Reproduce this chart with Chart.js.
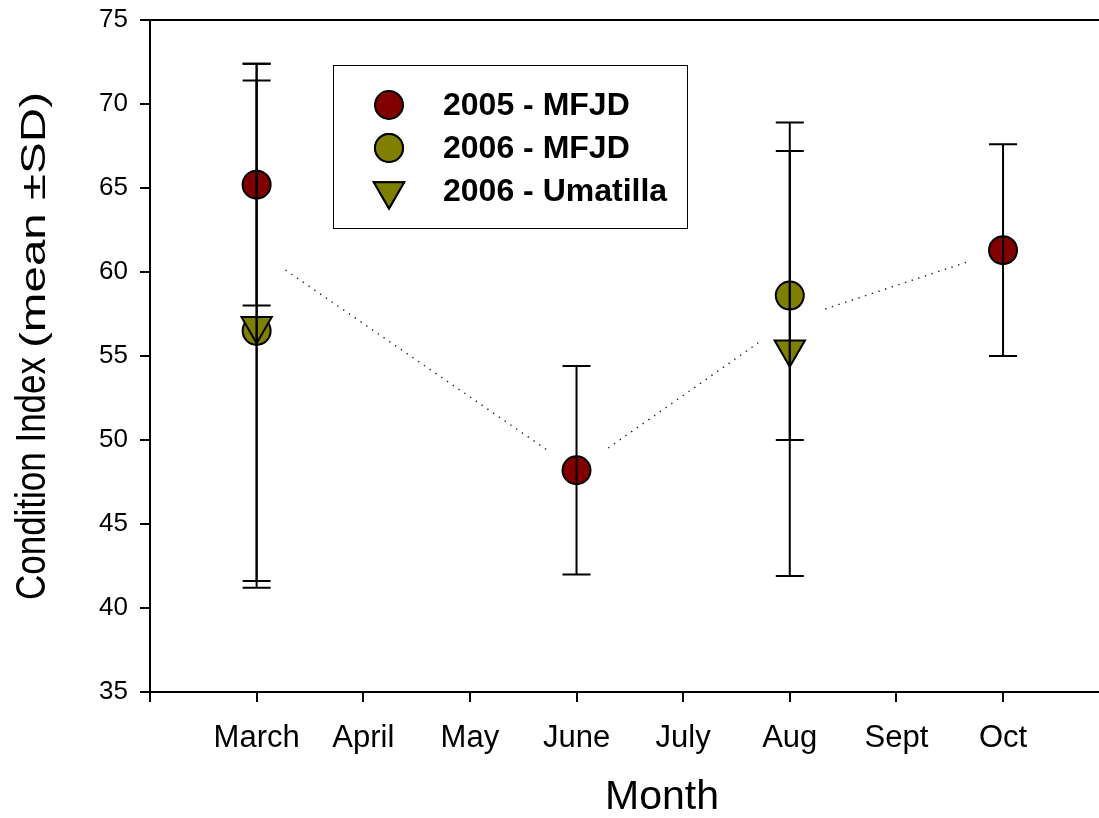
<!DOCTYPE html>
<html>
<head>
<meta charset="utf-8">
<script src="https://cdn.jsdelivr.net/npm/chart.js@4/dist/chart.umd.min.js"></script>
<style>
  body { margin: 0; background: #fff; }
  #wrap { width: 1099px; height: 818px; }
</style>
</head>
<body>
<div id="wrap"><canvas id="chart" width="1099" height="818"></canvas></div>
<script>
// Month categories (placed at x = 1..8 on a linear axis)
const months = ["March", "April", "May", "June", "July", "Aug", "Sept", "Oct"];

// Condition index, mean and SD per month (null = not sampled)
const mfjd2005 = [65.2, null, null, 48.2, null, null, null, 61.3];
const mfjd2005Sd = [7.2, null, null, 6.2, null, null, null, 6.3];
const mfjd2006 = [56.5, null, null, null, null, 58.6, null, null];
const mfjd2006Sd = [14.9, null, null, null, null, 8.6, null, null];
const umatilla2006 = [56.8, null, null, null, null, 55.4, null, null];
const umatilla2006Sd = [15.6, null, null, null, null, 13.5, null, null];

// dotted trend line through the monthly means
const trendMeans = [61.3, null, null, 48.2, null, 57.1, null, 61.3];

const yMin = 35, yMax = 75, yStep = 5;

function toPoints(vals, sds) {
  const pts = [];
  vals.forEach((v, i) => {
    if (v !== null) pts.push({ x: i + 1, y: v, sd: sds ? sds[i] : null });
  });
  return pts;
}

const FONT = "'Liberation Sans', Arial, sans-serif";

// error bars drawn on top of the markers, like the original
const errorBars = {
  id: "errorBars",
  afterDatasetsDraw(chart) {
    const ctx = chart.ctx;
    const xs = chart.scales.x, ys = chart.scales.y;
    ctx.save();
    ctx.strokeStyle = "#000";
    ctx.lineWidth = 2;
    chart.data.datasets.forEach((ds) => {
      if (!ds.errorBars) return;
      ds.data.forEach((p) => {
        if (p.sd == null) return;
        const px = xs.getPixelForValue(p.x);
        const top = ys.getPixelForValue(p.y + p.sd);
        const bot = ys.getPixelForValue(p.y - p.sd);
        ctx.beginPath();
        ctx.moveTo(px, top); ctx.lineTo(px, bot);
        ctx.moveTo(px - 14, top); ctx.lineTo(px + 14, top);
        ctx.moveTo(px - 14, bot); ctx.lineTo(px + 14, bot);
        ctx.stroke();
      });
    });
    ctx.restore();
  }
};

// draw a string squeezed/stretched to a given length
function fitText(ctx, text, x, y, len) {
  const w = ctx.measureText(text).width;
  ctx.save();
  ctx.translate(x, y);
  ctx.scale(len / w, 1);
  ctx.fillText(text, 0, 0);
  ctx.restore();
}

// legend box inside the plot + axis titles
const decorations = {
  id: "decorations",
  afterDraw(chart) {
    const ctx = chart.ctx;
    ctx.save();

    // legend
    const bx = 333, by = 65, bw = 354, bh = 163;
    ctx.strokeStyle = "#000";
    ctx.lineWidth = 1;
    ctx.strokeRect(bx + 0.5, by + 0.5, bw, bh);
    const items = chart.data.datasets.filter((d) => d.errorBars);
    const rowY = [105, 148, 191];
    items.forEach((ds, i) => {
      Chart.helpers.drawPoint(ctx, {
        pointStyle: ds.pointStyle,
        radius: ds.pointRadius,
        rotation: ds.rotation || 0,
        borderWidth: ds.borderWidth
      }, 389, rowY[i]);
      ctx.fillStyle = ds.backgroundColor;
      ctx.strokeStyle = ds.borderColor;
      ctx.lineWidth = ds.borderWidth;
      ctx.fill();
      ctx.stroke();
      ctx.fillStyle = "#000";
      ctx.font = "bold 32px " + FONT;
      ctx.textBaseline = "middle";
      ctx.textAlign = "left";
      ctx.fillText(ds.label, 443, rowY[i] + 1);
    });

    // x title
    ctx.fillStyle = "#000";
    ctx.font = "41px " + FONT;
    ctx.textAlign = "center";
    ctx.textBaseline = "middle";
    ctx.fillText("Month", 662, 798);

    // y title, two sizes
    ctx.translate(45, 600);
    ctx.rotate(-Math.PI / 2);
    ctx.textAlign = "left";
    ctx.textBaseline = "alphabetic";
    ctx.font = "42px " + FONT;
    fitText(ctx, "Condition Index", 0, 0, 243);
    ctx.font = "35px " + FONT;
    fitText(ctx, "(mean \u00b1SD)", 252, 0, 256);
    ctx.restore();
  }
};

const markerBase = { showLine: false, borderColor: "#000", borderWidth: 2, errorBars: true, order: 1 };

new Chart(document.getElementById("chart"), {
  type: "scatter",
  data: {
    datasets: [
      {
        label: "trend",
        data: toPoints(trendMeans, null),
        showLine: true,
        borderColor: "#222",
        borderWidth: 1.4,
        borderDash: [1.4, 5.6],
        pointRadius: 34,
        pointBackgroundColor: "#fff",
        pointBorderWidth: 0,
        pointHoverRadius: 34,
        order: 10
      },
      Object.assign({}, markerBase, {
        label: "2005 - MFJD",
        data: toPoints(mfjd2005, mfjd2005Sd),
        backgroundColor: "#800000",
        pointStyle: "circle",
        pointRadius: 14
      }),
      Object.assign({}, markerBase, {
        label: "2006 - MFJD",
        data: toPoints(mfjd2006, mfjd2006Sd),
        backgroundColor: "#808000",
        pointStyle: "circle",
        pointRadius: 14
      }),
      Object.assign({}, markerBase, {
        label: "2006 - Umatilla",
        data: toPoints(umatilla2006, umatilla2006Sd),
        backgroundColor: "#808000",
        pointStyle: "triangle",
        pointRadius: 17.5,
        rotation: 180,
        order: 0
      })
    ]
  },
  options: {
    responsive: false,
    animation: false,
    layout: { autoPadding: false, padding: { top: 20, right: 0, left: 0, bottom: 0 } },
    plugins: { legend: { display: false }, tooltip: { enabled: false } },
    elements: { point: { hoverRadius: 14 } },
    scales: {
      x: {
        type: "linear",
        min: 0,
        max: 8.9,
        afterFit: (s) => { s.height = 126; s.paddingLeft = 0; s.paddingRight = 0; },
        border: { color: "#000", width: 2 },
        grid: { drawOnChartArea: false, color: "#000", tickColor: "#000", tickLength: 10, lineWidth: 2 },
        ticks: {
          stepSize: 1,
          includeBounds: false,
          autoSkip: false,
          maxRotation: 0,
          padding: 18,
          color: "#000",
          font: { family: FONT, size: 31 },
          callback: (v) => (v >= 1 && v <= months.length ? months[v - 1] : "")
        }
      },
      y: {
        min: yMin,
        max: yMax,
        afterFit: (s) => { s.width = 150; s.paddingTop = 0; s.paddingBottom = 0; },
        border: { color: "#000", width: 2 },
        grid: {
          color: (c) => (c.tick && c.tick.value === yMax ? "#000" : "rgba(0,0,0,0)"),
          tickColor: "#000",
          tickLength: 10,
          lineWidth: 2
        },
        ticks: {
          stepSize: yStep,
          padding: 12,
          color: "#000",
          font: { family: FONT, size: 26 }
        }
      }
    }
  },
  plugins: [errorBars, decorations]
});
</script>
</body>
</html>
